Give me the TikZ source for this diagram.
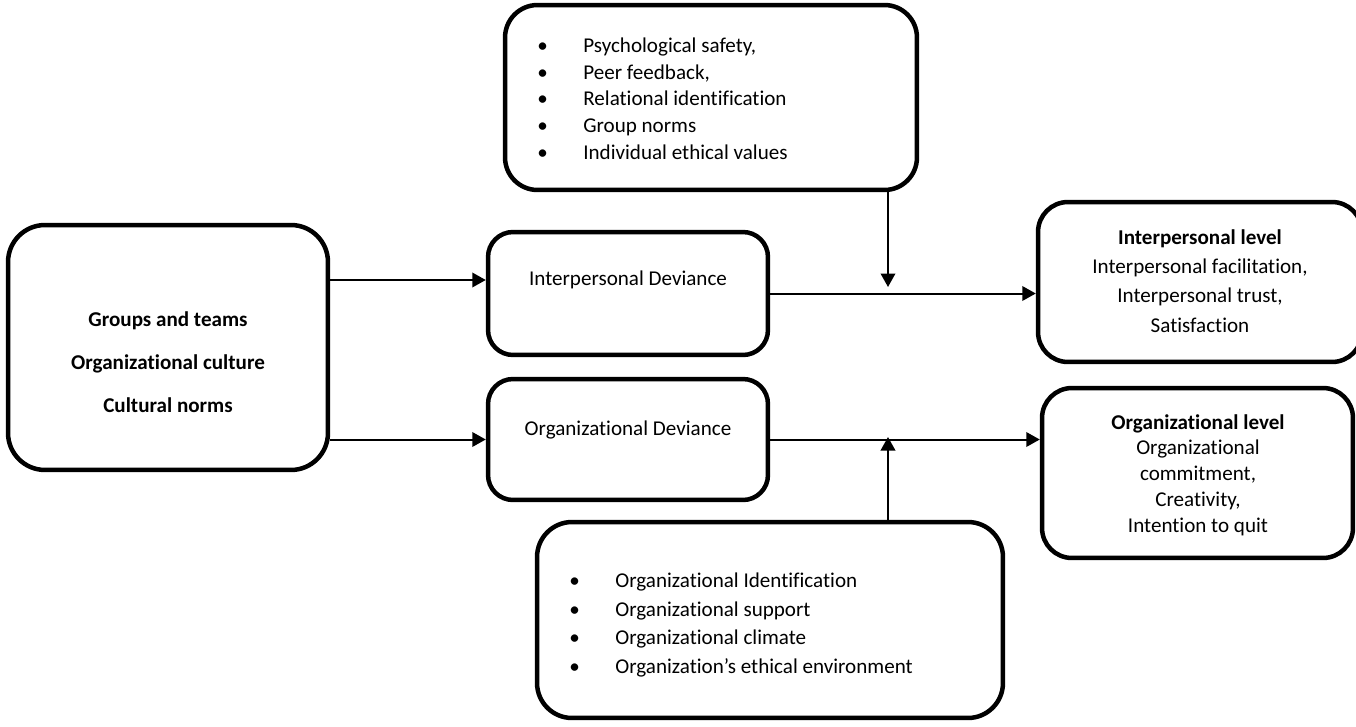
\documentclass[tikz,border=0pt]{standalone}
\usepackage{fontspec}
\setmainfont{Carlito}[Ligatures={NoCommon,NoContextual}]
\usepackage{tikz}
\usetikzlibrary{arrows.meta,positioning,calc}

\newcommand{\blt}{\makebox[0.92cm][l]{\textbullet}}

\tikzset{
  box/.style={draw, line width=0.09cm, rounded corners=0.65cm, inner sep=0pt},
  devbox/.style={box, rounded corners=0.5cm, minimum width=5.6cm},
  flow/.style={line width=0.04cm, -{Triangle[length=0.27cm,width=0.29cm]}},
  txt/.style={inner sep=0pt, align=center, font=\fontsize{12}{16}\selectfont},
}

\begin{document}
\begin{tikzpicture}[x=0.02cm,y=-0.02cm]
\useasboundingbox (0,0) rectangle (1356,727);

% moderators (top and bottom)
\node [box, minimum width=8.24cm, minimum height=3.7cm] (topbox) at (711,97.5) {};
\node [txt, anchor=west, align=left, font=\fontsize{12}{15.2}\selectfont] (toplist) at (537,98.5) {\blt Psychological safety,\\\blt Peer feedback,\\\blt Relational identification\\\blt Group norms\\\blt Individual ethical values};

\node [box, rounded corners=0.7cm, minimum width=9.32cm, minimum height=3.92cm] (bottombox) at (770,620) {};
\node [txt, anchor=west, align=left, font=\fontsize{12}{16.3}\selectfont] (bottomlist) at (569,625) {\blt Organizational Identification\\\blt Organizational support\\\blt Organizational climate\\\blt Organization’s ethical environment};

% antecedents
\node [box, rounded corners=0.74cm, minimum width=6.4cm, minimum height=4.9cm] (drivers) at (168,347.5) {};
\node [txt, font=\bfseries\fontsize{12}{24.4}\selectfont] (driverstext) at (168,362.5) {Groups and teams\\Organizational culture\\Cultural norms};

% deviance
\node [devbox, minimum height=2.46cm] (idev) at (628,293.5) {};
\node [txt] (idevtext) at (628,280) {Interpersonal Deviance};
\node [devbox, minimum height=2.42cm] (odev) at (628,439.5) {};
\node [txt] (odevtext) at (628,430) {Organizational Deviance};

% outcomes
\node [box, rounded corners=0.6cm, minimum width=6.48cm, minimum height=3.2cm] (ilevel) at (1200,282) {};
\node [txt, font=\fontsize{12}{16.6}\selectfont] (ileveltext) at (1200,281) {\textbf{Interpersonal level}\\Interpersonal facilitation,\\Interpersonal trust,\\Satisfaction};
\node [box, rounded corners=0.6cm, minimum width=6.22cm, minimum height=3.4cm] (olevel) at (1197.5,473) {};
\node [txt, font=\fontsize{12}{14.7}\selectfont] (oleveltext) at (1198,475) {\textbf{Organizational level}\\Organizational\\commitment,\\Creativity,\\Intention to quit};

\coordinate (imod) at (888,287);
\coordinate (omod) at (888,437);

\draw [flow] (drivers.east |- idevtext) -- (idev.west |- idevtext);
\draw [flow] (drivers.east |- odev.west) -- (odev.west);
\draw [flow] (idev.east) -- (ilevel.west |- idev.east);
\draw [flow] (odev.east) -- (olevel.west |- odev.east);
\draw [flow] (topbox.south -| imod) -- (imod);
\draw [flow] (bottombox.north -| omod) -- (omod);

\end{tikzpicture}
\end{document}
